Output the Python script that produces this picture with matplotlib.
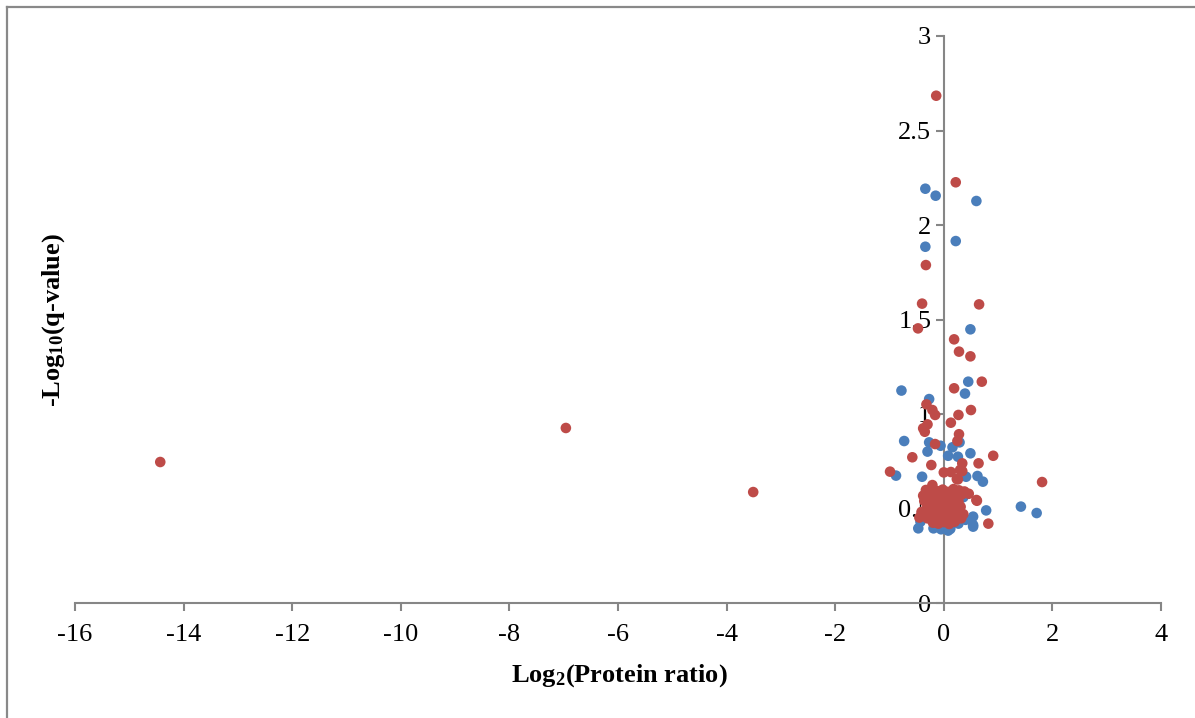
import matplotlib
matplotlib.use("Agg")
import matplotlib.pyplot as plt
from matplotlib.lines import Line2D

plt.rcParams['font.family'] = ['Liberation Serif', 'DejaVu Serif']
plt.rcParams['mathtext.fontset'] = 'custom'
plt.rcParams['mathtext.rm'] = 'Liberation Serif'
plt.rcParams['mathtext.bf'] = 'Liberation Serif:bold'
plt.rcParams['mathtext.it'] = 'Liberation Serif:italic'

# Series 1 (blue): log2 protein ratio vs -log10 q-value
blue_x = [-0.34, -0.15, 0.60, 0.22, -0.34, 0.49, 0.45, 0.39, -0.78, -0.27,
          0.29, -0.73, -0.27, -0.06, 0.16, -0.30, 0.49, 0.08, 0.26,
          -0.88, -0.40, 0.41, 0.62, 0.72, 1.42, 1.71, 0.78,
          -0.47, -0.19, 0.08, 0.54, -0.43, -0.35, -0.25, 0.54, 0.54,
          0.02, 0.27, -0.05, 0.40, -0.40, 0.12, 0.36, -0.10]
blue_y = [2.192, 2.155, 2.127, 1.915, 1.885, 1.448, 1.171, 1.108, 1.124, 1.079,
          0.850, 0.857, 0.850, 0.832, 0.824, 0.801, 0.792, 0.779, 0.774,
          0.674, 0.668, 0.668, 0.672, 0.642, 0.510, 0.476, 0.490,
          0.395, 0.395, 0.383, 0.404, 0.430, 0.455, 0.520, 0.457, 0.413,
          0.400, 0.420, 0.390, 0.440, 0.480, 0.392, 0.560, 0.470]

# Series 2 (red)
red_x = [-14.43, -6.96, -3.51, 1.81, 0.91, 0.82, 0.61,
         -0.14, 0.22, -0.33, -0.40, 0.65, -0.475, 0.19, 0.28, 0.49, 0.70,
         0.19, -0.32, -0.21, -0.16, 0.50, 0.27, 0.13, -0.30, -0.38, -0.35,
         0.28, 0.25, -0.16, -0.58, 0.34, 0.64, -0.23, 0.34, 0.00, 0.13,
         -0.99, 0.26, -0.21, 0.30, 0.24, 0.60,
         -0.33, -0.22, -0.12, -0.02, 0.08, 0.18, 0.28, 0.38,
         -0.38, -0.27, -0.17, -0.07, 0.03, 0.13, 0.23, 0.33, 0.46,
         -0.36, -0.25, -0.14, -0.03, 0.06, 0.17, 0.27,
         -0.31, -0.19, -0.09, 0.01, 0.11, 0.21, 0.31,
         -0.41, -0.26, -0.15, -0.05, 0.05, 0.16, 0.26, 0.36,
         -0.45, -0.30, -0.18, -0.08, 0.02, 0.12, 0.22, 0.32,
         -0.20, -0.10, 0.00, 0.10, 0.20]
red_y = [0.746, 0.926, 0.587, 0.640, 0.779, 0.420, 0.541,
         2.684, 2.226, 1.788, 1.584, 1.580, 1.453, 1.395, 1.330, 1.305, 1.171,
         1.136, 1.051, 1.021, 0.995, 1.021, 0.995, 0.954, 0.945, 0.924, 0.906,
         0.893, 0.857, 0.841, 0.771, 0.739, 0.739, 0.730, 0.698, 0.691, 0.693,
         0.695, 0.654, 0.624, 0.704, 0.656, 0.545,
         0.598, 0.605, 0.592, 0.600, 0.588, 0.603, 0.596, 0.590,
         0.568, 0.575, 0.562, 0.570, 0.566, 0.572, 0.560, 0.574, 0.578,
         0.540, 0.535, 0.545, 0.538, 0.530, 0.543, 0.536,
         0.510, 0.505, 0.515, 0.508, 0.512, 0.502, 0.509,
         0.482, 0.478, 0.485, 0.475, 0.480, 0.488, 0.472, 0.470,
         0.452, 0.448, 0.455, 0.445, 0.450, 0.458, 0.440, 0.448,
         0.425, 0.420, 0.428, 0.418, 0.430]

x_ticks = [-16, -14, -12, -10, -8, -6, -4, -2, 0, 2, 4]
y_ticks = [0, 0.5, 1, 1.5, 2, 2.5, 3]
y_ticklabels = ['0', '0.5', '1', '1.5', '2', '2.5', '3']

W, H = 1195, 718
fig = plt.figure(figsize=(W / 100, H / 100), dpi=100)
ax = fig.add_axes([75 / W, 1 - 603 / H, (1161 - 75) / W, (603 - 36) / H])

ax.scatter(blue_x, blue_y, s=58, color='#4A7EBB', edgecolors='none', zorder=3)
ax.scatter(red_x, red_y, s=58, color='#BE4B48', edgecolors='none', zorder=4)

ax.set_xlim(-16, 4)
ax.set_ylim(0, 3)

axis_gray = '#868686'
ax.spines['top'].set_visible(False)
ax.spines['right'].set_visible(False)
ax.spines['left'].set_position(('data', 0))
ax.spines['bottom'].set_position(('data', 0))
for side in ('left', 'bottom'):
    ax.spines[side].set_color(axis_gray)
    ax.spines[side].set_linewidth(1.5)

ax.set_xticks(x_ticks)
ax.set_xticklabels([str(t) for t in x_ticks])
ax.set_yticks(y_ticks)
ax.set_yticklabels(y_ticklabels)
ax.tick_params(axis='both', direction='out', length=6, width=1.5,
               color=axis_gray, labelsize=19, labelcolor='black')
ax.tick_params(axis='x', pad=9)
ax.tick_params(axis='y', pad=3)

fig.text(619 / W, 1 - 676 / H, r'Log$_{\mathbf{2}}$(Protein ratio)',
         ha='center', va='center', fontsize=19, fontweight='bold')
fig.text(54 / W, 1 - 320 / H, r'-Log$_{\mathbf{10}}$(q-value)',
         ha='center', va='center', fontsize=19, fontweight='bold',
         rotation=90)

# outer chart-area border
frame_gray = '#898989'
fig.add_artist(Line2D([7 / W, 7 / W], [0, 1 - 7 / H], transform=fig.transFigure,
                      color=frame_gray, linewidth=1.6))
fig.add_artist(Line2D([7 / W, 1], [1 - 7 / H, 1 - 7 / H], transform=fig.transFigure,
                      color=frame_gray, linewidth=1.6))

fig.savefig('out.png', dpi=100, facecolor='white')
